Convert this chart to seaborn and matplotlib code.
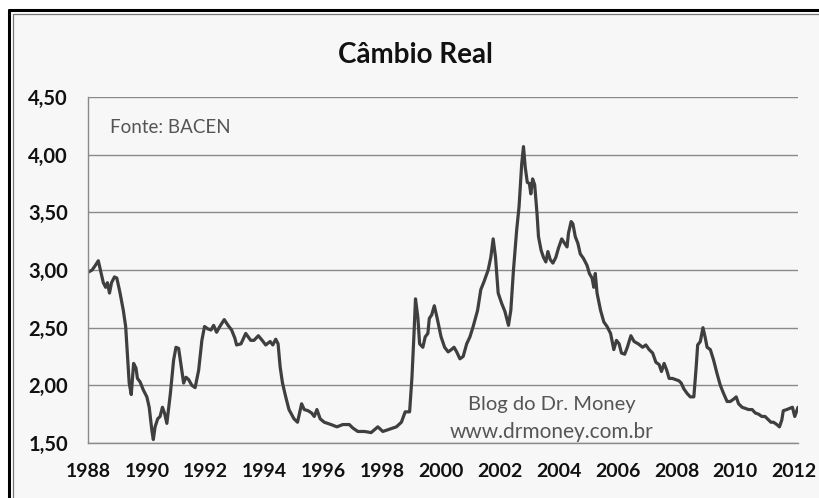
import matplotlib
matplotlib.use("Agg")
import matplotlib.pyplot as plt
from matplotlib.patches import Rectangle
from matplotlib.lines import Line2D
import seaborn as sns
import pandas as pd

# dados (ano fracionario, cambio real)
anos = [
    1988.00, 1988.14, 1988.25, 1988.35, 1988.45, 1988.52, 1988.60, 1988.66, 1988.73, 1988.80,
    1988.90, 1988.98, 1989.09, 1989.20, 1989.28, 1989.35, 1989.40, 1989.47, 1989.55, 1989.63,
    1989.68, 1989.77, 1989.88, 1990.00, 1990.08, 1990.17, 1990.22, 1990.28, 1990.37, 1990.45,
    1990.53, 1990.60, 1990.68, 1990.80, 1990.91, 1990.99, 1991.08, 1991.17, 1991.25, 1991.33,
    1991.42, 1991.53, 1991.64, 1991.76, 1991.87, 1991.96, 1992.07, 1992.18, 1992.27, 1992.37,
    1992.48, 1992.63, 1992.76, 1992.88, 1992.99, 1993.05, 1993.20, 1993.36, 1993.53, 1993.64,
    1993.79, 1993.92, 1994.04, 1994.19, 1994.28, 1994.38, 1994.46, 1994.53, 1994.61, 1994.72,
    1994.83, 1995.00, 1995.12, 1995.26, 1995.35, 1995.48, 1995.60, 1995.69, 1995.78, 1995.89,
    1996.03, 1996.26, 1996.46, 1996.66, 1996.88, 1997.00, 1997.17, 1997.40, 1997.62, 1997.85,
    1998.02, 1998.25, 1998.48, 1998.65, 1998.78, 1998.93, 1999.01, 1999.08, 1999.13, 1999.21,
    1999.27, 1999.38, 1999.46, 1999.55, 1999.60, 1999.68, 1999.77, 1999.86, 2000.00, 2000.12,
    2000.24, 2000.35, 2000.44, 2000.53, 2000.64, 2000.75, 2000.87, 2000.98, 2001.09, 2001.24,
    2001.35, 2001.46, 2001.60, 2001.69, 2001.77, 2001.85, 2001.94, 2002.06, 2002.17, 2002.29,
    2002.37, 2002.46, 2002.57, 2002.65, 2002.74, 2002.80, 2002.86, 2002.93, 2003.00, 2003.05,
    2003.11, 2003.18, 2003.26, 2003.31, 2003.40, 2003.48, 2003.56, 2003.63, 2003.71, 2003.80,
    2003.90, 2003.99, 2004.10, 2004.20, 2004.28, 2004.33, 2004.42, 2004.48, 2004.56, 2004.65,
    2004.73, 2004.84, 2004.96, 2005.04, 2005.13, 2005.19, 2005.24, 2005.30, 2005.42, 2005.53,
    2005.64, 2005.76, 2005.87, 2005.96, 2006.05, 2006.13, 2006.24, 2006.33, 2006.45, 2006.56,
    2006.70, 2006.85, 2006.96, 2007.07, 2007.19, 2007.30, 2007.41, 2007.49, 2007.58, 2007.67,
    2007.75, 2007.86, 2007.97, 2008.08, 2008.16, 2008.25, 2008.36, 2008.47, 2008.59, 2008.67,
    2008.72, 2008.81, 2008.90, 2008.98, 2009.04, 2009.15, 2009.26, 2009.38, 2009.49, 2009.60,
    2009.72, 2009.83, 2009.94, 2010.03, 2010.11, 2010.23, 2010.34, 2010.45, 2010.57, 2010.68,
    2010.79, 2010.90, 2011.01, 2011.13, 2011.21, 2011.30, 2011.41, 2011.50, 2011.58, 2011.63,
    2011.75, 2011.85, 2011.94, 2012.02, 2012.13,
]
cambio = [
    2.98, 3.00, 3.04, 3.08, 2.97, 2.89, 2.85, 2.89, 2.80, 2.89,
    2.94, 2.93, 2.80, 2.65, 2.51, 2.22, 2.02, 1.92, 2.19, 2.15,
    2.06, 2.03, 1.96, 1.90, 1.81, 1.61, 1.53, 1.64, 1.71, 1.73,
    1.81, 1.76, 1.67, 1.93, 2.22, 2.33, 2.32, 2.16, 2.02, 2.07,
    2.05, 2.00, 1.98, 2.13, 2.39, 2.51, 2.49, 2.48, 2.52, 2.46,
    2.51, 2.57, 2.52, 2.48, 2.41, 2.35, 2.36, 2.45, 2.39, 2.39,
    2.43, 2.39, 2.35, 2.38, 2.35, 2.40, 2.36, 2.16, 2.02, 1.90,
    1.79, 1.71, 1.68, 1.84, 1.79, 1.78, 1.76, 1.73, 1.79, 1.71,
    1.68, 1.66, 1.64, 1.66, 1.66, 1.63, 1.60, 1.60, 1.59, 1.64,
    1.60, 1.62, 1.64, 1.68, 1.77, 1.77, 2.07, 2.45, 2.75, 2.59,
    2.36, 2.33, 2.42, 2.45, 2.58, 2.61, 2.69, 2.59, 2.42, 2.33,
    2.29, 2.31, 2.33, 2.29, 2.23, 2.25, 2.36, 2.42, 2.51, 2.65,
    2.83, 2.90, 3.00, 3.11, 3.27, 3.11, 2.80, 2.71, 2.64, 2.52,
    2.65, 3.00, 3.35, 3.55, 3.92, 4.07, 3.89, 3.76, 3.75, 3.66,
    3.79, 3.74, 3.49, 3.29, 3.17, 3.11, 3.07, 3.16, 3.09, 3.06,
    3.11, 3.19, 3.27, 3.23, 3.20, 3.32, 3.42, 3.40, 3.29, 3.23,
    3.14, 3.10, 3.04, 2.97, 2.93, 2.85, 2.97, 2.80, 2.65, 2.55,
    2.51, 2.45, 2.31, 2.39, 2.36, 2.28, 2.27, 2.33, 2.43, 2.38,
    2.36, 2.33, 2.35, 2.31, 2.28, 2.20, 2.18, 2.12, 2.19, 2.13,
    2.06, 2.06, 2.05, 2.04, 2.02, 1.97, 1.93, 1.90, 1.90, 2.16,
    2.35, 2.38, 2.50, 2.41, 2.33, 2.31, 2.22, 2.10, 2.00, 1.93,
    1.86, 1.86, 1.88, 1.90, 1.84, 1.81, 1.80, 1.79, 1.79, 1.76,
    1.75, 1.73, 1.73, 1.70, 1.68, 1.68, 1.66, 1.64, 1.70, 1.78,
    1.79, 1.80, 1.81, 1.73, 1.81,
]
anos_ticks = list(range(1988, 2013, 2))
y_ticks = [1.50, 2.00, 2.50, 3.00, 3.50, 4.00, 4.50]
y_labels = ["1,50", "2,00", "2,50", "3,00", "3,50", "4,00", "4,50"]

df = pd.DataFrame({"ano": anos, "cambio": cambio})

sns.set_style("white")
plt.rcParams['font.family'] = ['Lato', 'DejaVu Sans']

fundo = '#f7f7f7'
fig = plt.figure(figsize=(8.2, 4.98), dpi=100)
fig.patch.set_facecolor('white')
fig.patch.set_edgecolor('none')
fig.patch.set_linewidth(0)

W, H = 820.0, 498.0
# area cinza clara e moldura (so em cima e a esquerda)
fig.patches.append(Rectangle((14 / W, 0), 1 - 14 / W, 1 - 14 / H, transform=fig.transFigure,
                             facecolor=fundo, edgecolor='none', linewidth=0, zorder=-5))
fig.add_artist(Line2D([9 / W, 1.0], [1 - 10 / H, 1 - 10 / H], color='black', lw=2.2))
fig.add_artist(Line2D([9 / W, 9 / W], [0.0, 1 - 10 / H], color='black', lw=2.2))
fig.add_artist(Line2D([13 / W, 1.0], [1 - 14 / H, 1 - 14 / H], color='#777777', lw=0.9))
fig.add_artist(Line2D([13 / W, 13 / W], [0.0, 1 - 14 / H], color='#777777', lw=0.9))

ax = fig.add_axes([88 / W, 1 - 443 / H, (798 - 88) / W, (443 - 97) / H])
ax.set_facecolor(fundo)

sns.lineplot(data=df, x="ano", y="cambio", ax=ax, color='#3f3f3f', linewidth=2.3)

ax.set_xlim(1988, 2012.13)
ax.set_ylim(1.5, 4.5)
ax.set_xticks(anos_ticks)
ax.set_xticklabels([str(a) for a in anos_ticks])
ax.set_yticks(y_ticks)
ax.set_yticklabels(y_labels)
ax.set_xlabel("")
ax.set_ylabel("")

ax.grid(axis='y', color='#8a8a8a', lw=1.0)
ax.set_axisbelow(True)
for s in ['top', 'right']:
    ax.spines[s].set_visible(False)
for s in ['left', 'bottom']:
    ax.spines[s].set_color('#8a8a8a')
    ax.spines[s].set_linewidth(1.0)

ax.tick_params(axis='both', direction='out', length=5.5, width=1, color='#8a8a8a',
               labelcolor='#111111')
ax.tick_params(axis='x', pad=9, labelsize=14)
ax.tick_params(axis='y', pad=9, labelsize=14.5)
for lab in ax.get_xticklabels() + ax.get_yticklabels():
    lab.set_fontweight('bold')

fig.text(415 / W, 1 - 55 / H, "Câmbio Real", ha='center', va='center',
         fontsize=20, fontweight='bold', color='#111111')
fig.text(110 / W, 1 - 127 / H, "Fonte: BACEN", ha='left', va='center',
         fontsize=13.5, color='#555555')
fig.text(552 / W, 1 - 404 / H, "Blog do Dr. Money", ha='center', va='center',
         fontsize=14.5, color='#555555')
fig.text(552 / W, 1 - 432 / H, "www.drmoney.com.br", ha='center', va='center',
         fontsize=15, color='#555555')

fig.savefig("out.png", dpi=100, facecolor=fig.get_facecolor())
